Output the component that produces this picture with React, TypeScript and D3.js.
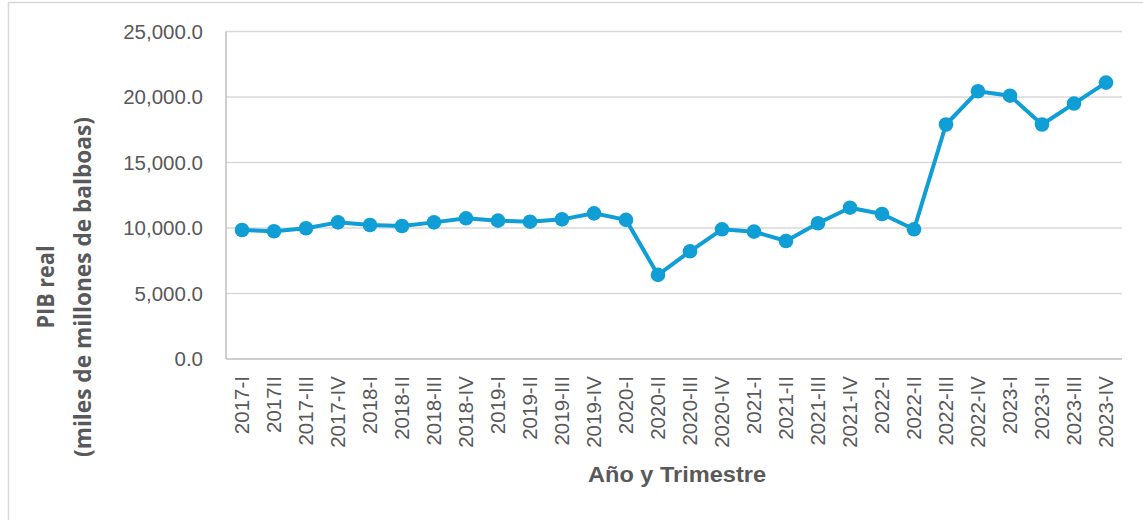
import { useMemo } from "react";
import * as d3 from "d3";

const quarters = [
  "2017-I", "2017II", "2017-III", "2017-IV",
  "2018-I", "2018-II", "2018-III", "2018-IV",
  "2019-I", "2019-II", "2019-III", "2019-IV",
  "2020-I", "2020-II", "2020-III", "2020-IV",
  "2021-I", "2021-II", "2021-III", "2021-IV",
  "2022-I", "2022-II", "2022-III", "2022-IV",
  "2023-I", "2023-II", "2023-III", "2023-IV",
];

const pibReal = [
  9850, 9750, 9980, 10430,
  10230, 10150, 10430, 10740,
  10560, 10480, 10660, 11120,
  10620, 6420, 8220, 9900,
  9720, 9010, 10360, 11550,
  11070, 9900, 17900, 20440,
  20100, 17900, 19500, 21100,
];

const yTicks = [0, 5000, 10000, 15000, 20000, 25000];

const yTitle = ["PIB real", "(miles de millones de balboas)"];
const xTitle = "Año y Trimestre";

const width = 1143;
const height = 520;
const margin = { top: 31.5, right: 21, bottom: 161, left: 226 };

const font = "'Liberation Sans', Arial, sans-serif";
const textColor = "#595959";
const lineColor = "#0F9ED5";

export default function App() {
  const x = useMemo(
    () =>
      d3
        .scaleBand()
        .domain(quarters)
        .range([margin.left, width - margin.right])
        .padding(0),
    []
  );

  const y = useMemo(
    () =>
      d3
        .scaleLinear()
        .domain([0, 25000])
        .range([height - margin.bottom, margin.top]),
    []
  );

  const cx = (q: string) => (x(q) ?? 0) + x.bandwidth() / 2;

  const line = d3
    .line<number>()
    .x((_, i) => cx(quarters[i]))
    .y((d) => y(d));

  const fmt = d3.format(",.1f");

  return (
    <svg
      width={width}
      height={height}
      style={{ position: "absolute", left: 0, top: 0, background: "#fff" }}
      fontFamily={font}
    >
      <rect x={8.5} y={2.5} width={width} height={height} fill="#fff" stroke="#D9D9D9" strokeWidth={1.5} />

      {/* grid */}
      {yTicks.map((t) => (
        <line
          key={t}
          x1={margin.left}
          x2={width - margin.right}
          y1={y(t)}
          y2={y(t)}
          stroke={t === 0 ? "#BFBFBF" : "#D9D9D9"}
          strokeWidth={1.5}
        />
      ))}
      <line
        x1={margin.left}
        x2={margin.left}
        y1={margin.top}
        y2={y(0)}
        stroke="#BFBFBF"
        strokeWidth={1.5}
      />

      {/* y tick labels */}
      {yTicks.map((t) => (
        <text
          key={t}
          x={203}
          y={y(t)}
          dy="0.36em"
          textAnchor="end"
          fontSize={20.5}
          fill={textColor}
        >
          {fmt(t)}
        </text>
      ))}

      {/* x tick labels */}
      {quarters.map((q) => (
        <text
          key={q}
          transform={`translate(${cx(q)},376) rotate(-90)`}
          dy="0.36em"
          textAnchor="end"
          fontSize={20.5}
          fill={textColor}
        >
          {q}
        </text>
      ))}

      {/* series */}
      <path d={line(pibReal) ?? ""} fill="none" stroke={lineColor} strokeWidth={4} strokeLinejoin="round" />
      {pibReal.map((v, i) => (
        <circle key={quarters[i]} cx={cx(quarters[i])} cy={y(v)} r={7.3} fill={lineColor} />
      ))}

      {/* titles */}
      <text
        x={677}
        y={481.5}
        textAnchor="middle"
        fontSize={22.5}
        fontWeight="bold"
        fill={textColor}
        textLength={178}
        lengthAdjust="spacingAndGlyphs"
      >
        {xTitle}
      </text>
      <g transform="translate(0,287) rotate(-90)">
        <text
          x={0}
          y={54}
          textAnchor="middle"
          fontSize={23}
          fontWeight="bold"
          fill={textColor}
          fontFamily="'Open Sans', sans-serif"
          textLength={83}
          lengthAdjust="spacingAndGlyphs"
        >
          {yTitle[0]}
        </text>
        <text
          x={0}
          y={91}
          textAnchor="middle"
          fontSize={23}
          fontWeight="bold"
          fill={textColor}
          fontFamily="'Open Sans', sans-serif"
          textLength={340}
          lengthAdjust="spacingAndGlyphs"
        >
          {yTitle[1]}
        </text>
      </g>
    </svg>
  );
}
